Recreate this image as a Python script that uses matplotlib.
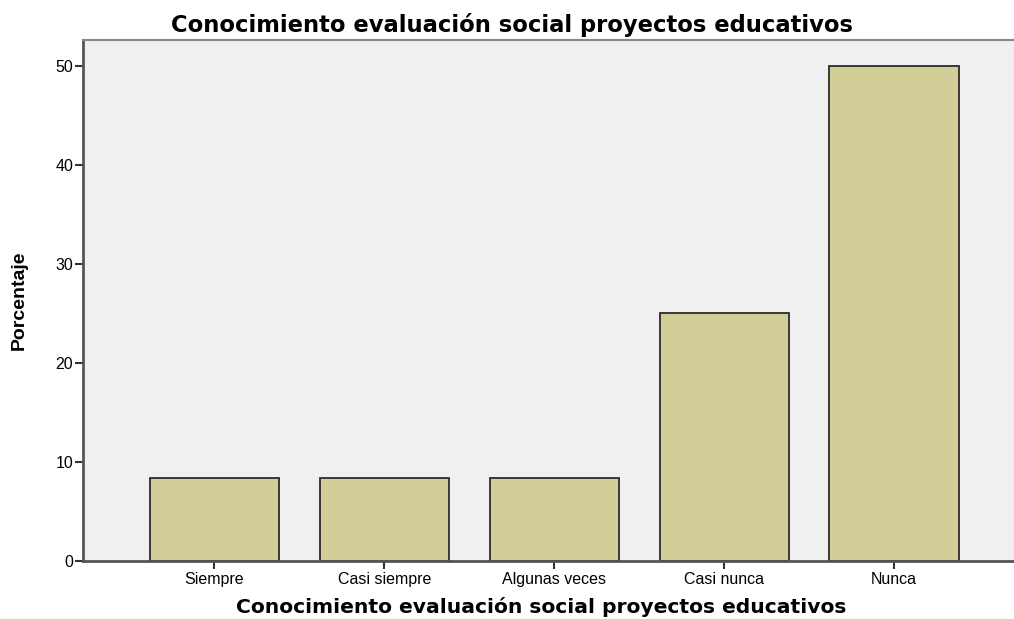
import matplotlib.pyplot as plt
import numpy as np

categorias = ['Siempre', 'Casi siempre', 'Algunas veces', 'Casi nunca', 'Nunca']
porcentajes = [8.33, 8.33, 8.33, 25.0, 50.0]
yticks = [0, 10, 20, 30, 40, 50]
titulo = 'Conocimiento evaluación social proyectos educativos'

fig = plt.figure(figsize=(10.14, 6.19), dpi=100)
ax = fig.add_axes([83/1014, 1 - 561/619, 1 - 83/1014, (561 - 40)/619])
ax.set_facecolor('#F0F0F0')

x = np.arange(len(categorias))
ax.bar(x, porcentajes, width=0.76, color='#D3CE98', edgecolor='#2b2b2b', linewidth=1.3, zorder=2)

ax.set_xlim(-0.774, 4.706)
ax.set_ylim(0, 52.6)
ax.set_yticks(yticks)
ax.set_xticks(x)
ax.set_xticklabels(categorias, fontfamily='Liberation Sans', fontsize=11.5)
for t in ax.get_yticklabels():
    t.set_fontfamily('Liberation Sans')
    t.set_fontsize(11.5)

for s in ['left', 'bottom', 'top']:
    ax.spines[s].set_color('#555555')
    ax.spines[s].set_linewidth(2)
ax.spines['top'].set_color('#888888')
ax.spines['top'].set_linewidth(1.5)
ax.spines['right'].set_visible(False)
ax.tick_params(axis='y', length=6, width=1.5, color='#333333', pad=1)
ax.tick_params(axis='x', length=6, width=1.5, color='#333333', pad=2)

# title is centred on the figure, not the axes
ax.set_title(titulo, fontfamily='DejaVu Sans', fontweight='bold', fontsize=16.3, pad=6, x=0.461)
ax.set_xlabel(titulo, fontfamily='DejaVu Sans', fontweight='bold', fontsize=14.6, labelpad=7, x=0.492)
ax.set_ylabel('Porcentaje', fontfamily=['Liberation Sans Narrow', 'Liberation Sans'],
              fontweight='bold', fontsize=14, labelpad=20)

fig.savefig('out.png', dpi=100)
